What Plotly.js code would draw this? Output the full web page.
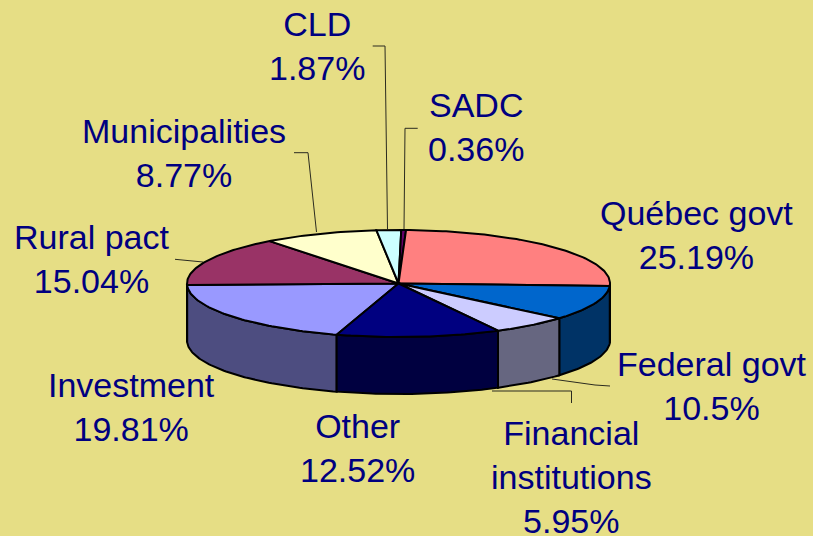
<!DOCTYPE html>
<html>
<head>
<meta charset="utf-8">
<script src="https://cdn.plot.ly/plotly-3.0.1.min.js"></script>
<style>
  html, body { margin: 0; padding: 0; background: #E6DE85; }
  #chart { width: 813px; height: 536px; }
</style>
</head>
<body>
<div id="chart"></div>
<script>
// ---- data ----
const categories = ['Investment', 'Rural pact', 'Municipalities', 'CLD', 'SADC',
                    'Québec govt', 'Federal govt', 'Financial institutions', 'Other'];
const shares = [19.81, 15.04, 8.77, 1.87, 0.36, 25.19, 10.5, 5.95, 12.52];
const sliceColors = ['#9999FF', '#993366', '#FFFFCC', '#CCFFFF', '#660066',
                     '#FF8080', '#0066CC', '#CCCCFF', '#000080'];

// ---- geometry / style constants ----
const W = 813, H = 536;
const CX = 398.5, CY = 283.5, RX = 211.5, RY = 53.5, DEPTH = 57;
const START = 197;            // degrees clockwise from 12 o'clock for first slice
const BG = '#E6DE85';
const TXT = '#000080';
const FONT = 'Liberation Sans, Arial, sans-serif';
const FS = 34;

function darken(hex, k) {
  const n = parseInt(hex.slice(1), 16);
  const r = Math.round(((n >> 16) & 255) * k), g = Math.round(((n >> 8) & 255) * k), b = Math.round((n & 255) * k);
  return 'rgb(' + r + ',' + g + ',' + b + ')';
}
function pt(tDeg, dy) {
  const r = tDeg * Math.PI / 180;
  return [CX + RX * Math.sin(r), CY - RY * Math.cos(r) + (dy || 0)];
}
function arc(a0, a1, dy) {
  const pts = [];
  const n = Math.max(2, Math.ceil(Math.abs(a1 - a0)));
  for (let i = 0; i <= n; i++) pts.push(pt(a0 + (a1 - a0) * i / n, dy));
  return pts;
}

const total = shares.reduce((a, b) => a + b, 0);
const angles = [];
let acc = START;
shares.forEach(v => { const s = acc; acc += v / total * 360; angles.push([s, acc]); });

const traces = [];
// side walls (front half only: 90..270 deg, and +360)
angles.forEach(([a0, a1], i) => {
  [[90, 270], [450, 630]].forEach(([f0, f1]) => {
    const lo = Math.max(a0, f0), hi = Math.min(a1, f1);
    if (hi - lo > 0.01) {
      const top = arc(lo, hi, 0);
      const bot = arc(hi, lo, DEPTH);
      const p = top.concat(bot);
      p.push(top[0]);
      traces.push({
        type: 'scatter', mode: 'lines', x: p.map(q => q[0]), y: p.map(q => q[1]),
        fill: 'toself', fillcolor: darken(sliceColors[i], 0.5),
        line: { color: '#000000', width: 2 }, hoverinfo: 'skip'
      });
    }
  });
});
// top faces
angles.forEach(([a0, a1], i) => {
  const p = [[CX, CY]].concat(arc(a0, a1, 0));
  p.push([CX, CY]);
  traces.push({
    type: 'scatter', mode: 'lines', x: p.map(q => q[0]), y: p.map(q => q[1]),
    fill: 'toself', fillcolor: sliceColors[i],
    line: { color: '#000000', width: 2 }, hoverinfo: 'skip'
  });
});

// ---- labels: [center x, first baseline] per category ----
const labelPos = [[131, 397], [92, 249], [184, 143], [317, 36], [476, 117],
                  [696, 225], [712, 376], [571, 445], [357, 438]];
const LH = 1.3 * FS;
const annotations = categories.map((c, i) => {
  const lines = (c === 'Financial institutions' ? ['Financial', 'institutions'] : [c]);
  lines.push(shares[i] + '%');
  const n = lines.length;
  const [x, b1] = labelPos[i];
  const yc = b1 + (n - 1) * LH / 2 - 0.35 * FS;
  return {
    x: x, y: yc, xref: 'x', yref: 'y', text: lines.join('<br>'), showarrow: false,
    xanchor: 'center', yanchor: 'middle', align: 'center',
    font: { family: FONT, size: FS, color: TXT }
  };
});

// leader lines
const leaders = [
  'M372.7,46 L385,46 L387.5,229',           // CLD
  'M417.7,128.3 L405,128.3 L404,229',       // SADC
  'M294,152.7 L308,152.7 L316.5,232',       // Municipalities
  'M175,259.3 L203,262',                    // Rural pact
  'M610,386 L595,385 L552,379',             // Federal govt
  'M492,391 L571.5,391 L571.5,403'          // Financial institutions
];
const shapes = leaders.map(d => ({
  type: 'path', path: d, xref: 'x', yref: 'y',
  line: { color: '#2b2b20', width: 1 }, layer: 'below'
}));

const layout = {
  width: W, height: H,
  margin: { l: 0, r: 0, t: 0, b: 0 },
  paper_bgcolor: BG, plot_bgcolor: BG,
  showlegend: false, hovermode: false,
  xaxis: { range: [0, W], visible: false, fixedrange: true },
  yaxis: { range: [H, 0], visible: false, fixedrange: true },
  annotations: annotations,
  shapes: shapes
};

Plotly.newPlot('chart', traces, layout, { staticPlot: true, displayModeBar: false });
</script>
</body>
</html>
